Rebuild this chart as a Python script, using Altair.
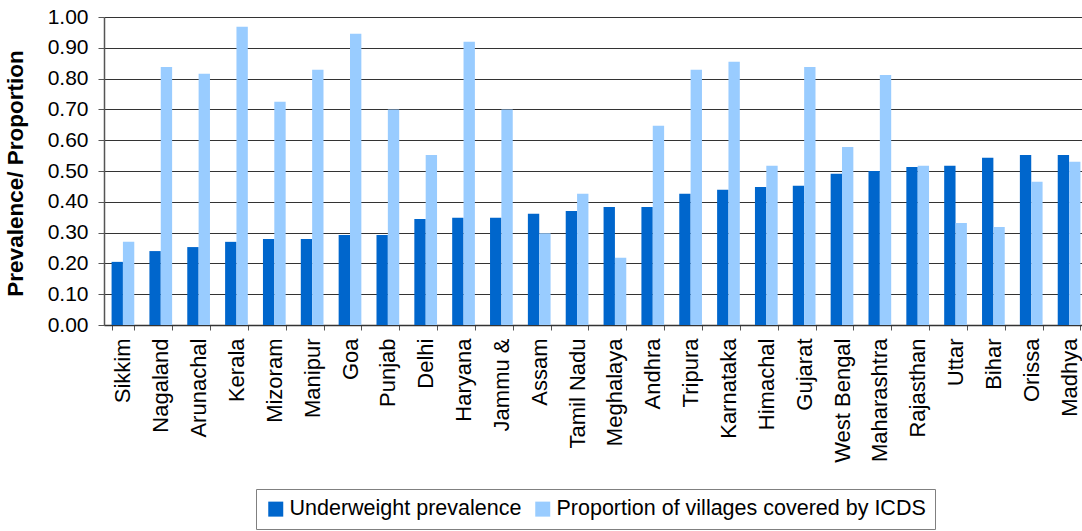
import altair as alt
import pandas as pd

# States, ordered by underweight prevalence
states = [
    "Sikkim", "Nagaland", "Arunachal", "Kerala", "Mizoram", "Manipur", "Goa",
    "Punjab", "Delhi", "Haryana", "Jammu &", "Assam", "Tamil Nadu", "Meghalaya",
    "Andhra", "Tripura", "Karnataka", "Himachal", "Gujarat", "West Bengal",
    "Maharashtra", "Rajasthan", "Uttar", "Bihar", "Orissa", "Madhya",
]

underweight = [
    0.205, 0.240, 0.253, 0.270, 0.279, 0.279, 0.292, 0.292, 0.344, 0.348,
    0.348, 0.361, 0.370, 0.383, 0.383, 0.426, 0.439, 0.448, 0.452, 0.491,
    0.500, 0.513, 0.517, 0.543, 0.552, 0.552,
]

icds_coverage = [
    0.270, 0.838, 0.816, 0.968, 0.725, 0.829, 0.946, 0.700, 0.552, 0.920,
    0.700, 0.298, 0.426, 0.218, 0.647, 0.829, 0.855, 0.517, 0.838, 0.578,
    0.812, 0.517, 0.331, 0.318, 0.465, 0.530,
]

series_names = ["Underweight prevalence", "Proportion of villages covered by ICDS"]
series_colors = ["#0066CC", "#99CCFF"]
y_ticks = [0.0, 0.1, 0.2, 0.3, 0.4, 0.5, 0.6, 0.7, 0.8, 0.9, 1.0]

rows = []
for s, u, c in zip(states, underweight, icds_coverage):
    rows.append({"state": s, "series": series_names[0], "value": u})
    rows.append({"state": s, "series": series_names[1], "value": c})
df = pd.DataFrame(rows)

FONT = "Liberation Sans, Arial, sans-serif"

chart = (
    alt.Chart(df)
    .mark_bar()
    .encode(
        x=alt.X(
            "state:N",
            sort=states,
            scale=alt.Scale(range=[0, 984], paddingInner=0.4, paddingOuter=0.2),
            axis=alt.Axis(
                title=None,
                labelAngle=-90,
                labelFontSize=22,
                labelFont=FONT,
                labelColor="black",
                labelPadding=8,
                tickBand="extent",
                tickSize=5,
                tickColor="#555555",
                domainColor="#333333",
                domainWidth=1.5,
                grid=False,
                labelLimit=300,
            ),
        ),
        xOffset=alt.XOffset("series:N", sort=series_names),
        y=alt.Y(
            "value:Q",
            scale=alt.Scale(domain=[0, 1], nice=False),
            axis=alt.Axis(
                title="Prevalence/ Proportion",
                values=y_ticks,
                format=".2f",
                labelFontSize=21,
                labelFont=FONT,
                labelColor="black",
                labelPadding=10,
                tickSize=6,
                tickColor="#555555",
                domainColor="#555555",
                domainWidth=1.5,
                gridColor="#333333",
                gridWidth=1,
                titleFont=FONT,
                titleFontSize=22.5,
                titleFontWeight="bold",
                titleColor="black",
                titleAngle=270,
                titleX=-82,
                titleY=156,
                titleAlign="center",
                titleBaseline="alphabetic",
            ),
        ),
        color=alt.Color(
            "series:N",
            sort=series_names,
            scale=alt.Scale(domain=series_names, range=series_colors),
            legend=alt.Legend(
                title=None,
                orient="none",
                legendX=152,
                legendY=472,
                direction="horizontal",
                symbolType="square",
                symbolSize=225,
                symbolStrokeWidth=0,
                labelFont=FONT,
                labelFontSize=21.5,
                labelColor="black",
                labelLimit=600,
                labelOffset=3,
                columnPadding=10,
                padding=9,
                strokeColor="#808080",
                fillColor="white",
            ),
        ),
    )
    .properties(
        width=978,
        height=308,
        padding={"left": 104, "top": 17, "right": 0, "bottom": 206},
        autosize=alt.AutoSizeParams(type="none"),
        background="white",
    )
    .configure_view(strokeWidth=0)
)

chart.save("out.html", embed_options={"renderer": "svg", "actions": False})
